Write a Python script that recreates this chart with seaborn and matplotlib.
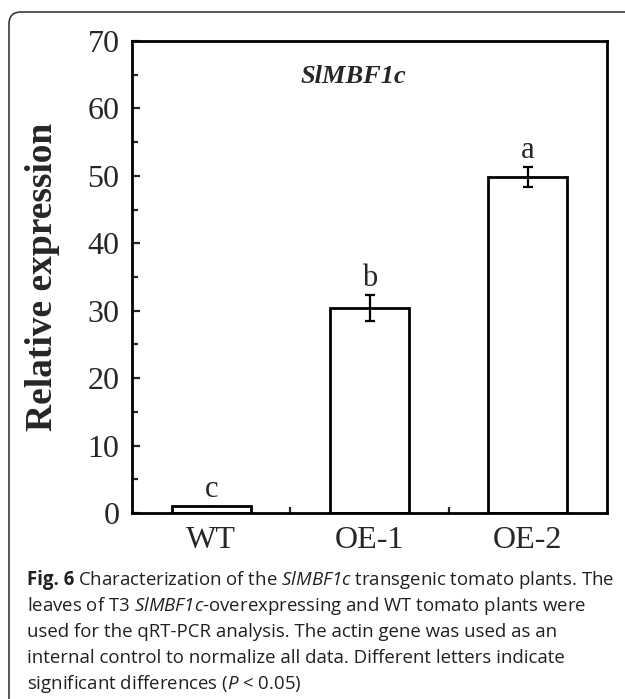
import matplotlib
matplotlib.use("Agg")
import matplotlib.pyplot as plt
import seaborn as sns
import numpy as np
import pandas as pd
from matplotlib.patches import FancyBboxPatch
from matplotlib.transforms import IdentityTransform
from matplotlib.ticker import MultipleLocator
from matplotlib import font_manager

# ---- data ----
categories = ["WT", "OE-1", "OE-2"]
expression = [1.0, 30.4, 49.8]
errors = [0.0, 1.9, 1.5]
letters = ["c", "b", "a"]
y_ticks = [0, 10, 20, 30, 40, 50, 60, 70]
gene_name = "SlMBF1c"
ylabel = "Relative expression"

caption_head = "Fig. 6"
caption_lines = [
    r"Characterization of the $\mathsf{SlMBF1c}$ transgenic tomato plants. The",
    r"leaves of T3 $\mathsf{SlMBF1c}$-overexpressing and WT tomato plants were",
    "used for the qRT-PCR analysis. The actin gene was used as an",
    "internal control to normalize all data. Different letters indicate",
    r"significant differences ($\mathsf{P}$ < 0.05)",
]


def has_bold(fam):
    for f in font_manager.fontManager.ttflist:
        if f.name == fam:
            w = f.weight
            if isinstance(w, str):
                if w in ("bold", "heavy", "extra bold", "black", "semibold", "demibold"):
                    return True
            elif w >= 600:
                return True
    return False


cap_font = "DejaVu Sans"
for fam in ["Noto Sans", "Open Sans", "Lato", "Roboto"]:
    if has_bold(fam):
        cap_font = fam
        break

sns.set_style("white")
plt.rcParams["font.family"] = ["Liberation Serif", "DejaVu Serif"]
plt.rcParams["mathtext.fontset"] = "custom"
plt.rcParams["mathtext.rm"] = cap_font
plt.rcParams["mathtext.it"] = cap_font + ":italic"
plt.rcParams["mathtext.sf"] = cap_font + ":italic"
plt.rcParams["mathtext.bf"] = cap_font + ":bold"

W, H = 625, 699
fig = plt.figure(figsize=(W / 100, H / 100), dpi=100)
fig.patch.set_facecolor("white")

ax = fig.add_axes([132 / W, 1 - 513 / H, 475 / W, 472 / H])
df = pd.DataFrame({"cat": categories, "val": expression})
sns.barplot(data=df, x="cat", y="val", color="white", edgecolor="black",
            linewidth=2.0, width=0.5, errorbar=None, ax=ax, saturation=1)
for p in ax.patches:
    p.set_facecolor("white")

xs = np.arange(len(categories))
err_mask = [e > 0 for e in errors]
ax.errorbar(xs[err_mask], np.array(expression)[err_mask], yerr=np.array(errors)[err_mask],
            fmt="none", ecolor="black", elinewidth=1.6, capsize=3.8, capthick=1.6, zorder=5)

for x, v, e, l in zip(xs, expression, errors, letters):
    ax.text(x, v + e + 1.3, l, ha="center", va="baseline", fontsize=22,
            family="Liberation Serif")

ax.text(0.90, 64.8, gene_name, ha="center", va="center", fontsize=19,
        fontweight="bold", fontstyle="italic", family="Liberation Serif")

ax.set_xlim(-0.5, 2.5)
ax.set_ylim(0, 70)
ax.set_yticks(y_ticks)
ax.yaxis.set_minor_locator(MultipleLocator(5))
ax.set_xticks(xs)
ax.set_xticks([0.5, 1.5], minor=True)
ax.set_xticklabels(categories)
ax.set_xlabel("")
ax.set_ylabel(ylabel, fontsize=27, fontweight="bold", family="Liberation Serif")
ax.yaxis.set_label_coords(-0.152, 0.5)

ax.tick_params(axis="both", which="major", direction="in", length=6, width=1.6,
               labelsize=23, pad=9, bottom=True, left=True, top=False, right=False)
ax.tick_params(axis="both", which="minor", direction="in", length=4, width=1.6,
               bottom=True, left=True, top=False, right=False)
for s in ax.spines.values():
    s.set_linewidth(2.0)
    s.set_color("black")
    s.set_visible(True)

# frame around figure (open at right/bottom)
frame = FancyBboxPatch((9, -40), 800, (H - 12) + 40, boxstyle="round,pad=0,rounding_size=12",
                       transform=IdentityTransform(), facecolor="none",
                       edgecolor="#3a3a3a", linewidth=1.2)
fig.add_artist(frame)

# caption, fitted to width
baselines = [585, 611, 637, 663, 689]
fs = 12.0
x0 = 27
color = "#231f20"
head = fig.text(x0 / W, 1 - baselines[0] / H, caption_head, ha="left", va="baseline",
                fontsize=fs, family=cap_font, fontweight="bold", color=color)
texts = []
for line, yb in zip(caption_lines, baselines):
    t = fig.text(x0 / W, 1 - yb / H, line, ha="left", va="baseline", fontsize=fs,
                 family=cap_font, color=color)
    texts.append(t)
fig.canvas.draw()
r = fig.canvas.get_renderer()
w_head = head.get_window_extent(r).width
w_rest = texts[0].get_window_extent(r).width
gap = 0.3
scale = (614 - x0) / (w_head + gap * fs + w_rest)
fs2 = fs * scale
head.set_fontsize(fs2)
for t in texts:
    t.set_fontsize(fs2)
fig.canvas.draw()
w_head = head.get_window_extent(r).width
texts[0].set_position(((x0 + w_head + fs2 * gap) / W, 1 - baselines[0] / H))

fig.savefig("out.png", dpi=100)
